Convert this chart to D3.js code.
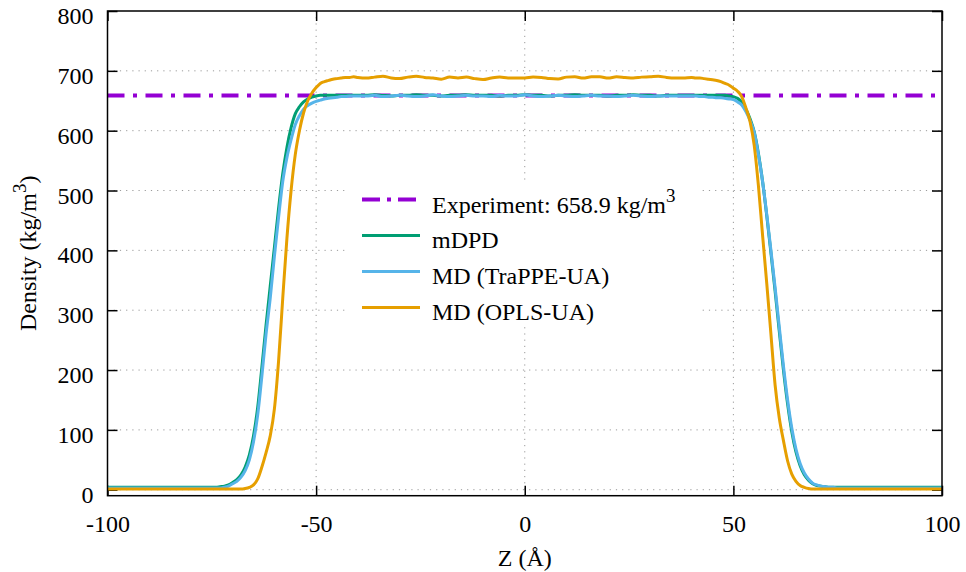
<!DOCTYPE html>
<html>
<head>
<meta charset="utf-8">
<title>Density profile</title>
<script src="https://d3js.org/d3.v7.min.js"></script>
<style>
  body { margin: 0; background: #fff; }
  svg text { font-family: "Liberation Serif", "Times New Roman", serif; fill: #000; }
</style>
</head>
<body>
<script type="text/javascript">
    // shared z grid (Angstrom)
    var zPos = [-100, -90, -80, -76,
        -75, -74, -73, -72, -71, -70, -69, -68, -67, -66, -65, -64, -63, -62, -61, -60,
        -59, -58, -57, -56, -55, -54, -53, -52, -51, -50, -49, -48, -47, -46, -45, -44,
        -43, -42, -41, -40,
        -38, -36, -34, -32, -30, -28, -26, -24, -22, -20, -18, -16, -14, -12, -10, -8, -6, -4, -2,
        0, 2, 4, 6, 8, 10, 12, 14, 16, 18, 20, 22, 24, 26, 28, 30, 32, 34, 36, 38,
        40, 41, 42, 43, 44, 45, 46, 47, 48, 49, 50, 51, 52, 53, 54, 55, 56, 57, 58, 59,
        60, 61, 62, 63, 64, 65, 66, 67, 68, 69, 70, 71, 72, 73, 74, 75,
        76, 80, 90, 100];

    var mdpd = [4, 4, 4, 4,
        4, 4, 5, 6, 8, 12, 17, 25, 38, 58, 90, 138, 205, 275, 340, 405,
        470, 528, 572, 605, 628, 640, 648, 653, 656, 658, 659, 659, 659, 659, 659, 659,
        659, 659, 659, 659,
        659, 660, 659, 658, 659, 659, 660, 659, 659, 658, 659, 659, 660, 659, 659, 659, 658, 659, 659,
        660, 659, 659, 658, 659, 659, 660, 659, 659, 659, 658, 659, 659, 660, 659, 659, 658, 659, 659, 659,
        659, 659, 659, 659, 659, 659, 659, 659, 659, 658, 657, 654, 648, 636, 620, 598, 562, 515, 458, 396,
        332, 265, 200, 143, 97, 63, 40, 25, 16, 10, 7, 6, 5, 4, 4, 4,
        4, 4, 4, 4];

    var trappe = [3, 3, 3, 3,
        3, 3, 3, 4, 6, 10, 14, 21, 32, 50, 80, 125, 190, 260, 320, 390,
        455, 515, 555, 585, 610, 625, 636, 642, 646, 649, 651, 653, 654, 655, 656, 657,
        657, 658, 658, 658,
        658, 659, 657, 658, 659, 658, 657, 658, 660, 658, 657, 658, 659, 658, 658, 657, 659, 658, 658,
        660, 658, 657, 658, 659, 658, 657, 658, 659, 658, 658, 657, 658, 659, 658, 657, 658, 658, 658, 658,
        658, 658, 657, 657, 656, 656, 655, 655, 654, 653, 652, 648, 643, 632, 617, 597, 560, 515, 460, 400,
        338, 272, 207, 150, 103, 68, 44, 28, 18, 11, 8, 6, 5, 4, 4, 3,
        3, 3, 3, 3];

    var opls = [1, 1, 1, 1,
        1, 1, 1, 1, 1, 1, 1, 1, 2, 4, 8, 18, 38, 62, 90, 135,
        215, 320, 420, 500, 560, 600, 630, 650, 663, 672, 679, 682, 684, 686, 687, 688,
        689, 689, 690, 689,
        688, 689.5, 691, 688, 687, 689.5, 691, 689, 688, 686, 689.5, 688, 689.5, 687, 685.5, 688, 689.5, 688, 688,
        688, 689.5, 689, 687, 686.5, 689.5, 690, 688, 690, 690, 688, 690, 689, 688, 689.5, 690, 691, 689, 688, 688,
        689, 688, 688, 687, 686, 685, 684, 682, 679, 676, 671, 666, 657, 638, 615, 575, 508, 425, 345, 260,
        175, 120, 82, 48, 26, 14, 7, 4, 2, 1, 1, 1, 1, 1, 1, 1,
        1, 1, 1, 1];

    var experiment = 658.9;
    var xTicks = [-100, -50, 0, 50, 100];
    var yTicks = [0, 100, 200, 300, 400, 500, 600, 700, 800];
    var seriesNames = ['mDPD', 'MD (TraPPE-UA)', 'MD (OPLS-UA)'];
    var seriesColors = ['#009e73', '#56b4e9', '#e69f00'];
    var expColor = '#9400d3';

    var w = 966, h = 572;
    var plotLeft = 107.5, plotRight = 942, plotTop = 11, plotBottom = 495.7;
    var fontSize = 24;

    //Create scales
    var xScale = d3.scaleLinear()
                    .domain([-100, 100])
                    .range([plotLeft, plotRight]);

    var yScale = d3.scaleLinear()
                    .domain([-10, 800])
                    .range([plotBottom, plotTop]);

    var svg = d3.select('body')
                .append('svg')
                .attr('width', w)
                .attr('height', h);

    //Grid
    var grid = svg.append('g')
        .attr('stroke', '#9a9a9a')
        .attr('stroke-width', 1)
        .attr('stroke-dasharray', '1.2,5');

    grid.selectAll('.gx')
        .data(xTicks.filter(function(d) { return d > -100 && d < 100; }))
        .enter()
        .append('line')
        .attr('x1', function(d) { return xScale(d); })
        .attr('x2', function(d) { return xScale(d); })
        .attr('y1', plotTop)
        .attr('y2', plotBottom);

    grid.selectAll('.gy')
        .data(yTicks.filter(function(d) { return d < 800; }))
        .enter()
        .append('line')
        .attr('x1', plotLeft)
        .attr('x2', plotRight)
        .attr('y1', function(d) { return yScale(d); })
        .attr('y2', function(d) { return yScale(d); });

    //Axes (ticks point inward, mirrored on top/right)
    var plain = function(d) { return String(d); };
    var xAxis = d3.axisBottom(xScale).tickValues(xTicks).tickFormat(plain).tickSizeInner(-10).tickSizeOuter(0).tickPadding(19);
    var yAxis = d3.axisLeft(yScale).tickValues(yTicks).tickFormat(plain).tickSizeInner(-10).tickSizeOuter(0).tickPadding(14);
    var xAxisTop = d3.axisTop(xScale).tickValues(xTicks).tickSizeInner(-10).tickSizeOuter(0).tickFormat('');
    var yAxisRight = d3.axisRight(yScale).tickValues(yTicks).tickSizeInner(-10).tickSizeOuter(0).tickFormat('');

    var gx = svg.append('g').attr('transform', 'translate(0,' + plotBottom + ')').call(xAxis);
    var gy = svg.append('g').attr('transform', 'translate(' + plotLeft + ',0)').call(yAxis);
    var gxt = svg.append('g').attr('transform', 'translate(0,' + plotTop + ')').call(xAxisTop);
    var gyr = svg.append('g').attr('transform', 'translate(' + plotRight + ',0)').call(yAxisRight);

    [gx, gy, gxt, gyr].forEach(function(g) {
        g.select('.domain').remove();
        g.selectAll('line').attr('stroke', '#000').attr('stroke-width', 1.5);
        g.selectAll('text')
            .attr('font-size', fontSize + 'px')
            .attr('font-family', '"Liberation Serif", serif')
            .attr('fill', '#000');
    });
    gy.selectAll('text').attr('dy', '0.52em');

    //Experiment line
    svg.append('line')
        .attr('x1', xScale(-100))
        .attr('x2', xScale(100))
        .attr('y1', yScale(experiment))
        .attr('y2', yScale(experiment))
        .attr('stroke', expColor)
        .attr('stroke-width', 4)
        .attr('stroke-dasharray', '17,8.5,4,8.5');

    //Profiles
    var series = [mdpd, trappe, opls];
    var line = d3.line()
        .x(function(d, i) { return xScale(zPos[i]); })
        .y(function(d) { return yScale(d); })
        .curve(d3.curveMonotoneX);

    svg.selectAll('.profile')
        .data(series)
        .enter()
        .append('path')
        .attr('class', 'profile')
        .attr('d', function(d) { return line(d); })
        .attr('fill', 'none')
        .attr('stroke', function(d, i) { return seriesColors[i]; })
        .attr('stroke-width', 3)
        .attr('stroke-linejoin', 'round');

    //Frame
    svg.append('rect')
        .attr('x', plotLeft)
        .attr('y', plotTop)
        .attr('width', plotRight - plotLeft)
        .attr('height', plotBottom - plotTop)
        .attr('fill', 'none')
        .attr('stroke', '#000')
        .attr('stroke-width', 1.5);

    //Legend
    var legend = svg.append('g');
    legend.append('rect')
        .attr('x', 345).attr('y', 181)
        .attr('width', 355).attr('height', 146)
        .attr('fill', '#fff');

    var rowY = function(i) { return 199.5 + 36 * i; };
    legend.append('line')
        .attr('x1', 362).attr('x2', 420)
        .attr('y1', rowY(0)).attr('y2', rowY(0))
        .attr('stroke', expColor)
        .attr('stroke-width', 4)
        .attr('stroke-dasharray', '18,7,4,7');

    var expText = legend.append('text')
        .attr('x', 432).attr('y', rowY(0) + 13.5)
        .attr('font-size', fontSize + 'px');
    expText.append('tspan').text('Experiment: ' + experiment + ' kg/m');
    expText.append('tspan').attr('dy', -11).attr('font-size', '19px').text('3');

    seriesNames.forEach(function(name, i) {
        legend.append('line')
            .attr('x1', 362).attr('x2', 420)
            .attr('y1', rowY(i + 1)).attr('y2', rowY(i + 1))
            .attr('stroke', seriesColors[i])
            .attr('stroke-width', 3);
        legend.append('text')
            .attr('x', 432).attr('y', rowY(i + 1) + 12.8)
            .attr('font-size', fontSize + 'px')
            .text(name);
    });

    //Axis titles
    svg.append('text')
        .attr('x', xScale(0))
        .attr('y', 566)
        .attr('text-anchor', 'middle')
        .attr('font-size', fontSize + 'px')
        .text('Z (Å)');

    var yTitle = svg.append('text')
        .attr('transform', 'translate(36,' + ((plotTop + plotBottom) / 2) + ') rotate(-90)')
        .attr('text-anchor', 'middle')
        .attr('font-size', fontSize + 'px');
    yTitle.append('tspan').text('Density (kg/m');
    yTitle.append('tspan').attr('dy', -10).attr('font-size', '19px').text('3');
    yTitle.append('tspan').attr('dy', 10).text(')');
</script>
</body>
</html>
